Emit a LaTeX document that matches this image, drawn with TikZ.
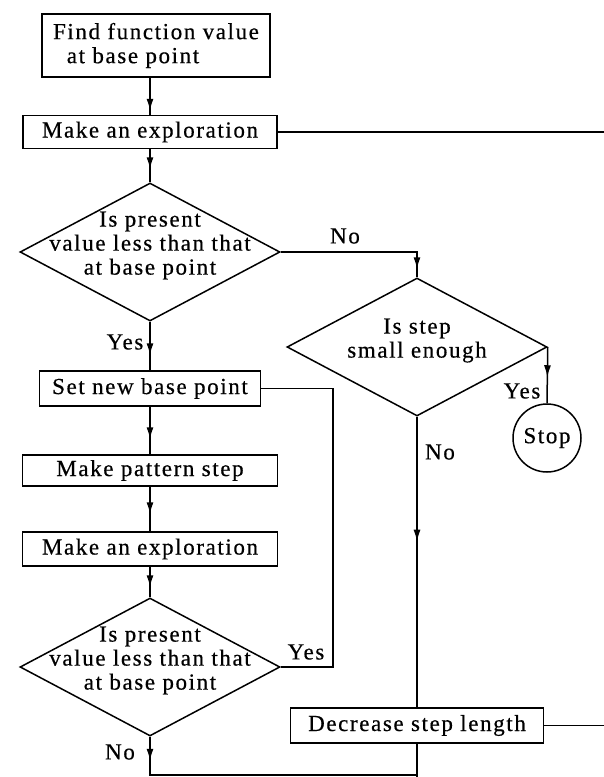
\documentclass[tikz,border=0pt]{standalone}
\usepackage{fontspec}
\setmainfont{Liberation Serif}[LetterSpace=7,FakeBold=0.5]
\usetikzlibrary{shapes.geometric,arrows.meta,decorations.markings}

% text of a decision, not counted in the diamond size
\newcommand{\qtext}[1]{\smash{\makebox[0pt]{\begin{tabular}{@{}c@{}}#1\end{tabular}}}}

\tikzset{
  wire/.style={line width=1.5pt},
  procbox/.style={draw, line width=1.5pt, minimum height=33, inner sep=2pt},
  decision/.style={diamond, draw, line width=1.5pt, minimum width=260, minimum height=138, inner sep=0pt},
  flow/.style={wire, decoration={markings, mark=at position #1 with {\arrow{Latex[length=12pt,width=7pt]}}}, postaction={decorate}},
}

\begin{document}
\begin{tikzpicture}[x=1pt,y=-1pt,font=\fontsize{23}{24}\selectfont]
  \useasboundingbox (0,0) rectangle (604,777);

  % Left column
  \node[procbox, minimum width=228, minimum height=63, inner xsep=5pt, align=left] (findval) at (156,45.5) {Find function value\\\hspace*{0.6em}at base point};
  \node[procbox, minimum width=254] (explA) at (150,132) {Make an exploration};
  \node[decision] (testA) at (150,252) {\qtext{Is present\\value less than that\\at base point}};
  \node[procbox, minimum width=221, minimum height=35] (newbase) at (150,388.5) {Set new base point};
  \node[procbox, minimum width=255, minimum height=31] (pattern) at (150,470.5) {Make pattern step};
  \node[procbox, minimum width=255, minimum height=34] (explB) at (150,549) {Make an exploration};
  \node[decision] (testB) at (150,667) {\qtext{Is present\\value less than that\\at base point}};

  % Right column
  \node[decision] (small) at (417,347) {\qtext{Is step\\small enough}};
  \node[circle, draw, line width=1.5pt, minimum size=68, inner sep=0pt] (stop) at (547,438) {Stop};
  \node[procbox, minimum width=253, minimum height=35] (decrease) at (417,725.5) {Decrease step length};

  % Free ends and corners
  \coordinate (outA) at (604,132);
  \coordinate (outB) at (604,725.5);
  \coordinate (downB) at (417,777);
  \coordinate (turnB) at (150,775);
  \coordinate (joinB) at (417,775);
  \coordinate (loopR) at (333,667);

  % Connectors
  \draw[flow=-4pt] (findval.south -| explA.north) -- (explA.north);
  \draw[wire] (explA.east) -- (outA);
  \draw[flow=-13pt] (explA.south) -- (testA.north);
  \draw[flow=-15pt] (testA.south) -- (newbase.north);
  \draw[flow=-8pt] (testA.east) -| (small.north);
  \draw[flow=-26pt] (small.east) -- (stop.north);
  \draw[flow=0.43] (small.south) -- (decrease.north);
  \draw[flow=-15pt] (newbase.south) -- (pattern.north);
  \draw[flow=-17pt] (pattern.south) -- (explB.north);
  \draw[flow=-10pt] (explB.south) -- (testB.north);
  \draw[wire] (testB.east) -- (loopR) |- (newbase.east);
  \draw[flow=24pt] (testB.south) -- (turnB) -- (joinB);
  \draw[wire] (decrease.east) -- (outB);
  \draw[wire] (decrease.south) -- (downB);

  % Branch labels
  \node (noA) at (345,236) {No};
  \node (yesA) at (125,342) {Yes};
  \node (yesS) at (522,391) {Yes};
  \node (noS) at (440,452) {No};
  \node (yesB) at (306,652) {Yes};
  \node (noB) at (120,752) {No};
\end{tikzpicture}
\end{document}
